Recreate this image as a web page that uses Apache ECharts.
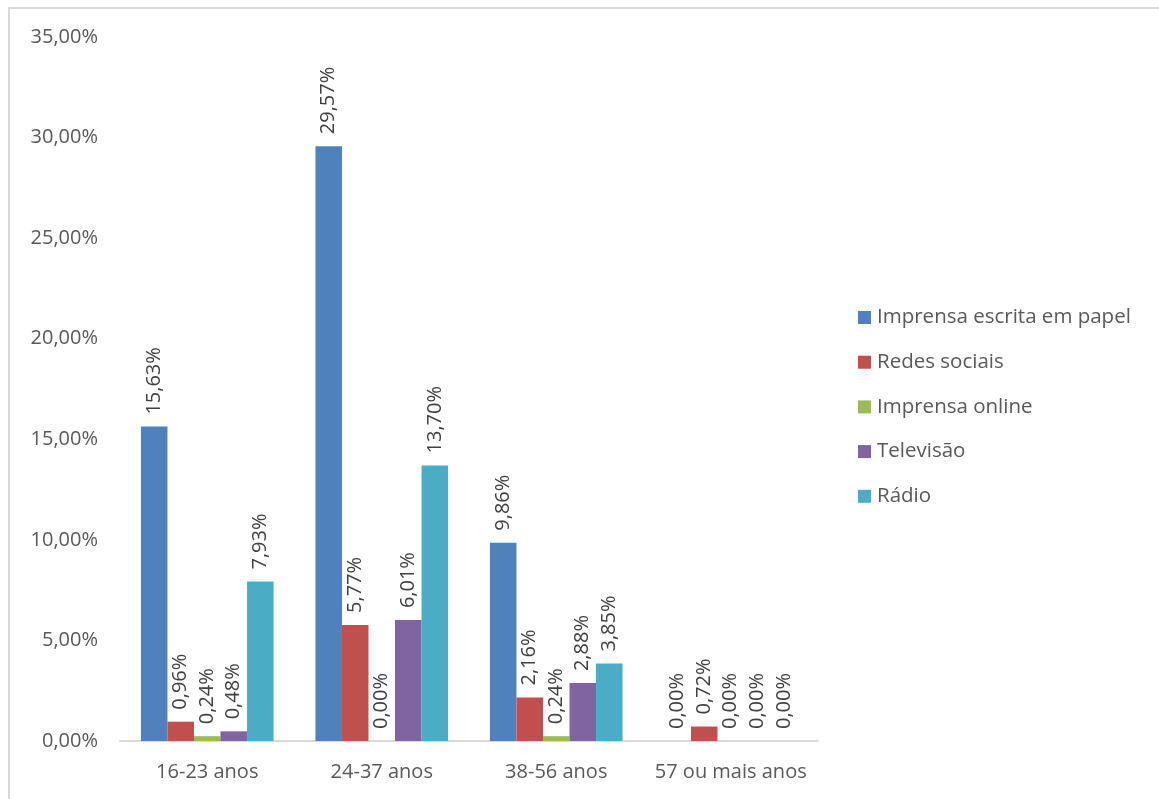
<!DOCTYPE html>
<html><head><meta charset="utf-8">
<script src="https://cdn.jsdelivr.net/npm/echarts@6/dist/echarts.min.js"></script>
<style>
html,body{margin:0;padding:0;background:#fff;}
#frame{position:absolute;left:8px;top:7px;width:1170px;height:820px;border:2px solid #d9d9d9;box-sizing:border-box;}
#c{position:absolute;left:0;top:0;width:1159px;height:799px;}
</style></head>
<body>
<div id="frame"></div>
<div id="c"></div>
<script>
const categories = ['16-23 anos','24-37 anos','38-56 anos','57 ou mais anos'];
const seriesNames = ['Imprensa escrita em papel','Redes sociais','Imprensa online','Televisão','Rádio'];
const imprensaPapel = [15.63, 29.57, 9.86, 0.00];
const redesSociais = [0.96, 5.77, 2.16, 0.72];
const imprensaOnline = [0.24, 0.00, 0.24, 0.00];
const televisao = [0.48, 6.01, 2.88, 0.00];
const radio = [7.93, 13.70, 3.85, 0.00];
const colors = ['#4f81bd','#c0504d','#9bbb59','#8064a2','#4bacc6'];
const allData = [imprensaPapel, redesSociais, imprensaOnline, televisao, radio];
const fmt = v => v.toFixed(2).replace('.', ',') + '%';
const font = '"Open Sans", "Noto Sans", sans-serif';
const chart = echarts.init(document.getElementById('c'), null, {renderer:'canvas'});
chart.setOption({
  animation:false,
  color: colors,
  textStyle:{fontFamily:font},
  grid:{left:120, right:341, top:37, bottom:58, containLabel:false},
  legend:{
    orient:'vertical', left:853, top:302, itemWidth:13, itemHeight:13, itemGap:23.7,
    icon:'rect',
    textStyle:{fontSize:20.5, color:'#595959', fontFamily:font, padding:[0,0,0,1]},
    data: seriesNames
  },
  xAxis:{
    type:'category', data:categories,
    axisLine:{lineStyle:{color:'#d9d9d9', width:2}},
    axisTick:{show:false},
    axisLabel:{interval:0, fontSize:20, color:'#595959', margin:21, fontFamily:font}
  },
  yAxis:{
    type:'value', min:0, max:35, interval:5,
    axisLine:{show:false}, axisTick:{show:false},
    splitLine:{show:false},
    axisLabel:{fontSize:20, color:'#595959', margin:22, fontFamily:font, formatter:fmt}
  },
  series: seriesNames.map((n,i)=>({
    name:n, type:'bar', data: allData[i], barGap:'0%', barCategoryGap:'24%',
    itemStyle:{color:colors[i]},
    label:{show:true, position:'top', rotate:90, align:'left', verticalAlign:'middle',
      distance:12, fontSize:20, color:'#404040', fontFamily:font,
      formatter:p=>fmt(p.value)}
  }))
});
</script>
</body></html>
